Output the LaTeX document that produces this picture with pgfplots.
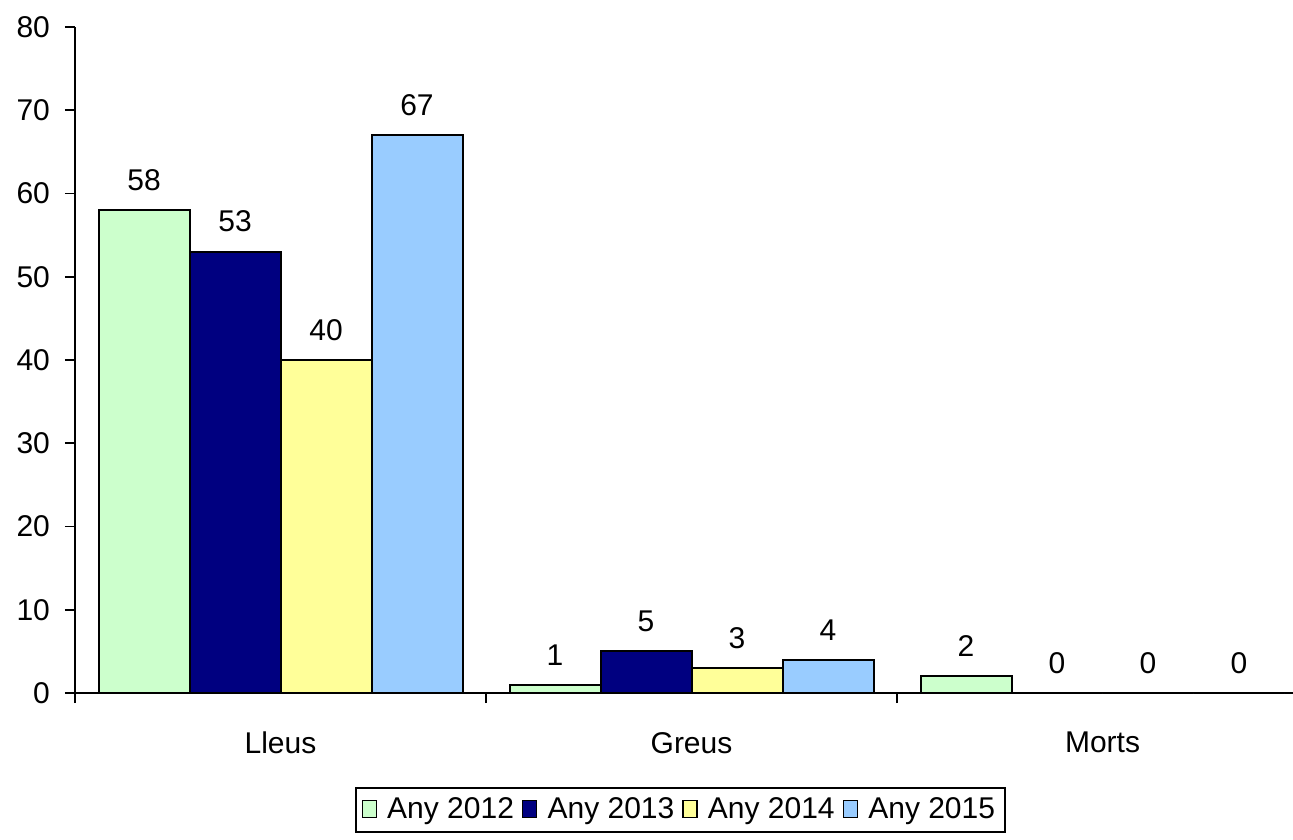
\documentclass[border=0pt]{standalone}
\usepackage{pgfplots}
\pgfplotsset{compat=1.18}
\usepackage{fontspec}
\setmainfont{Liberation Sans}
\definecolor{c12}{HTML}{CCFFCC}
\definecolor{c13}{HTML}{000080}
\definecolor{c14}{HTML}{FFFF99}
\definecolor{c15}{HTML}{99CCFF}
\begin{document}
\begin{tikzpicture}
\begin{axis}[
  name=ax,
  scale only axis,
  width=609pt, height=333pt,
  xmin=-0.5, xmax=2.4635,
  ymin=0, ymax=80,
  ytick={0,10,...,80},
  axis x line*=bottom,
  axis y line*=left,
  axis line style={line width=0.9pt},
  tick align=outside,
  major tick length=5pt,
  tick style={line width=0.9pt, black},
  xtick={-0.5,0.5,1.5,2.5},
  xticklabels={},
  extra x ticks={0,1,2},
  extra x tick labels={Lleus,Greus,Morts},
  extra x tick style={major tick length=0pt, tick label style={yshift=-16pt}},
  yticklabel style={xshift=-4pt},
  ybar=0pt,
  bar width=0.2214,
  clip=false,
  font=\fontsize{15}{18}\selectfont,
  tick label style={font=\fontsize{15}{18}\selectfont},
  /pgf/number format/assume math mode=true,
  nodes near coords,
  every node near coord/.append style={font=\fontsize{15}{18}\selectfont, yshift=6pt, color=black},
  legend columns=4,
  legend style={at={(0.497,-0.141)}, anchor=north, draw=black, line width=0.9pt,
    font=\fontsize{15}{18}\selectfont,
    /tikz/every even column/.append style={column sep=2pt},
    inner sep=3pt},
  legend image code/.code={\draw[#1, line width=0.6pt] (0pt,-4pt) rectangle (7pt,4.5pt); \path (10pt,0pt);},
]
\addplot[fill=c12, draw=black, line width=1pt, bar shift=-0.3321] coordinates {(0,58) (1,1) (2,2)};
\addplot[fill=c13, draw=black, line width=1pt, bar shift=-0.1107] coordinates {(0,53) (1,5) (2,0)};
\addplot[fill=c14, draw=black, line width=1pt, bar shift=0.1107] coordinates {(0,40) (1,3) (2,0)};
\addplot[fill=c15, draw=black, line width=1pt, bar shift=0.3321] coordinates {(0,67) (1,4) (2,0)};
\legend{Any 2012, Any 2013, Any 2014, Any 2015}
\coordinate (o) at (rel axis cs:0,0);
\end{axis}
\pgfresetboundingbox
\path[use as bounding box] (o) ++(-37.5pt,-73pt) rectangle ++(646.5pt,419.5pt);
\end{tikzpicture}
\end{document}
